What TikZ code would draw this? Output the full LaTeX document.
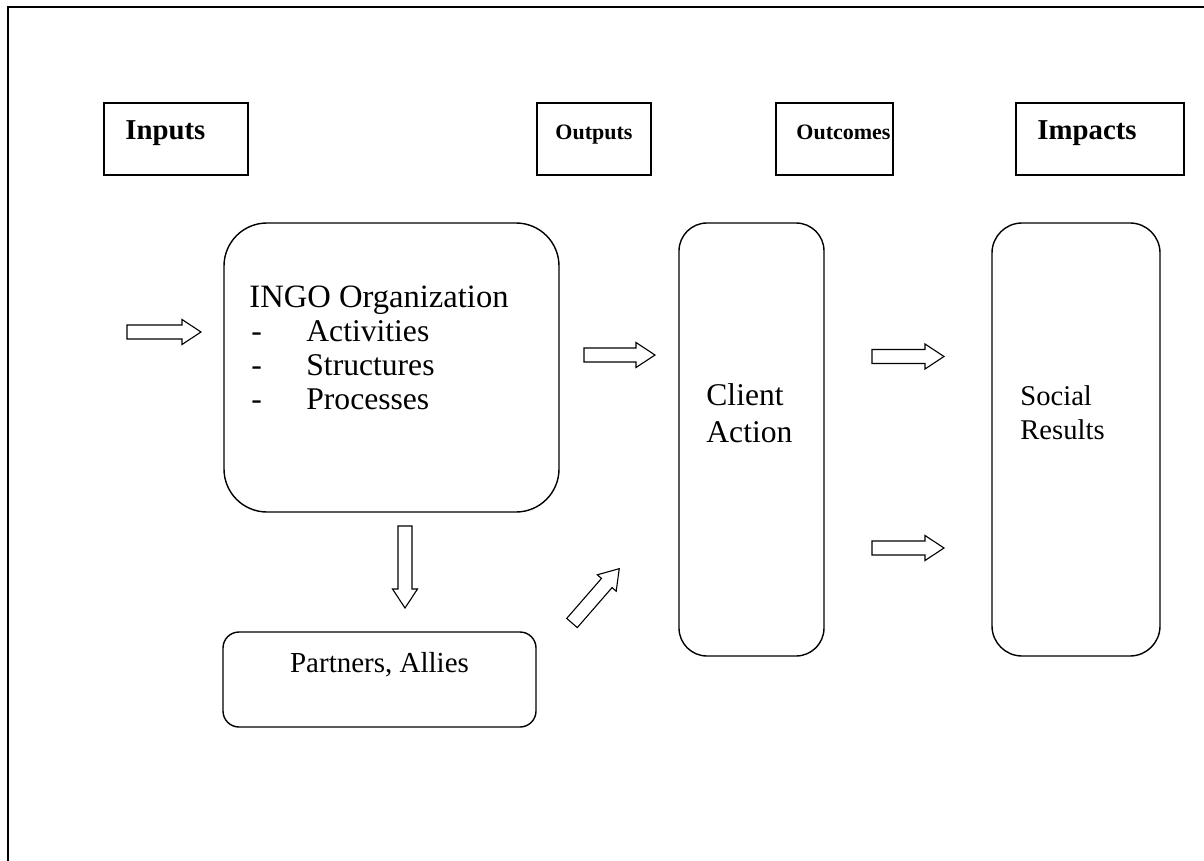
\documentclass[tikz,border=0pt]{standalone}
\usepackage{fontspec}
\setmainfont{Liberation Serif}
% solid outline arrow: tail at #1, turned by #2 degrees, #3 long
\newcommand\blockarrow[3]{%
  \draw[arrowline, shift={(#1)}, rotate=#2]
    (0,-7) -- ({#3-19},-7) -- ({#3-19},-12.5) -- (#3,0)
    -- ({#3-19},12.5) -- ({#3-19},7) -- (0,7) -- cycle;}
\begin{document}
\begin{tikzpicture}[x=0.5pt, y=-0.5pt,
  frameline/.style={line width=1pt, line cap=rect},
  headbox/.style={draw, line width=0.7pt, inner sep=0pt, outer sep=0pt},
  roundbox/.style={draw, line width=0.7pt, inner sep=0pt, outer sep=0pt, rounded corners=#1},
  arrowline/.style={draw, line width=0.55pt, line join=miter},
  headtext/.style={font=\bfseries\fontsize{14.4}{16}\selectfont, inner sep=0pt, anchor=base west},
  smallhead/.style={font=\bfseries\fontsize{11}{12}\selectfont, inner sep=0pt, anchor=base west},
  titletext/.style={font=\fontsize{16.3}{18}\selectfont, inner sep=0pt, anchor=base west},
  bodytext/.style={font=\fontsize{15.8}{17}\selectfont, inner sep=0pt, anchor=base west},
  sidetext/.style={font=\fontsize{14.3}{16}\selectfont, inner sep=0pt, anchor=base west},
  parttext/.style={font=\fontsize{14.5}{16}\selectfont, inner sep=0pt, anchor=base}]
\useasboundingbox (0,0) rectangle (1204,861);

% page frame (open to the right and bottom)
\draw[frameline] (1204,7) -- (8,7) -- (8,861);

% column headings
\node[headbox, minimum width=72pt, minimum height=36pt] (inputs) at (176,139) {};
\node[headbox, minimum width=57pt, minimum height=36pt] (outputs) at (594,139) {};
\node[headbox, minimum width=58.5pt, minimum height=36pt] (outcomes) at (834.5,139) {};
\node[headbox, minimum width=84pt, minimum height=36pt] (impacts) at (1100,139) {};
\node[headtext] (tinputs) at (125,140) {Inputs};
\node[smallhead] (toutputs) at (555,140) {Outputs};
\node[smallhead] (toutcomes) at (796,140) {Outcomes};
\node[headtext] (timpacts) at (1037,140) {Impacts};

% main blocks
\node[roundbox=21.5pt, minimum width=167.5pt, minimum height=144.5pt] (ingo) at (391.5,367.5) {};
\node[roundbox=14pt, minimum width=72.5pt, minimum height=216.5pt] (client) at (751.5,439.5) {};
\node[roundbox=15pt, minimum width=84pt, minimum height=216.5pt] (social) at (1076,439.5) {};
\node[roundbox=8pt, minimum width=156.5pt, minimum height=47.5pt] (partners) at (379.5,679.5) {};

% block texts
\node[titletext] (ingotitle) at (249,307) {INGO Organization};
\node[bodytext] (dasha) at (251,341) {-};
\node[bodytext] (dashb) at (251,375) {-};
\node[bodytext] (dashc) at (251,409) {-};
\node[bodytext] (itema) at (306,341) {Activities};
\node[bodytext] (itemb) at (306,375) {Structures};
\node[bodytext] (itemc) at (306,409) {Processes};
\node[bodytext] (clienta) at (706,405) {Client};
\node[bodytext] (clientb) at (706,442) {Action};
\node[sidetext] (sociala) at (1020,405) {Social};
\node[sidetext] (socialb) at (1020,439) {Results};
\node[parttext] (parttitle) at (379.5,672) {Partners, Allies};

% arrow tails
\coordinate (tailin) at (127,332);
\coordinate (tailout) at (584,355);
\coordinate (tailupper) at (872,356.5);
\coordinate (taillower) at (872,548);
\coordinate (taildown) at (405,526);
\coordinate (taildiag) at (572,623);

% block arrows
\blockarrow{tailin}{0}{74}
\blockarrow{tailout}{0}{71}
\blockarrow{tailupper}{0}{72}
\blockarrow{taillower}{0}{72}
\blockarrow{taildown}{-90}{82}
\blockarrow{taildiag}{49}{72}
\end{tikzpicture}
\end{document}
